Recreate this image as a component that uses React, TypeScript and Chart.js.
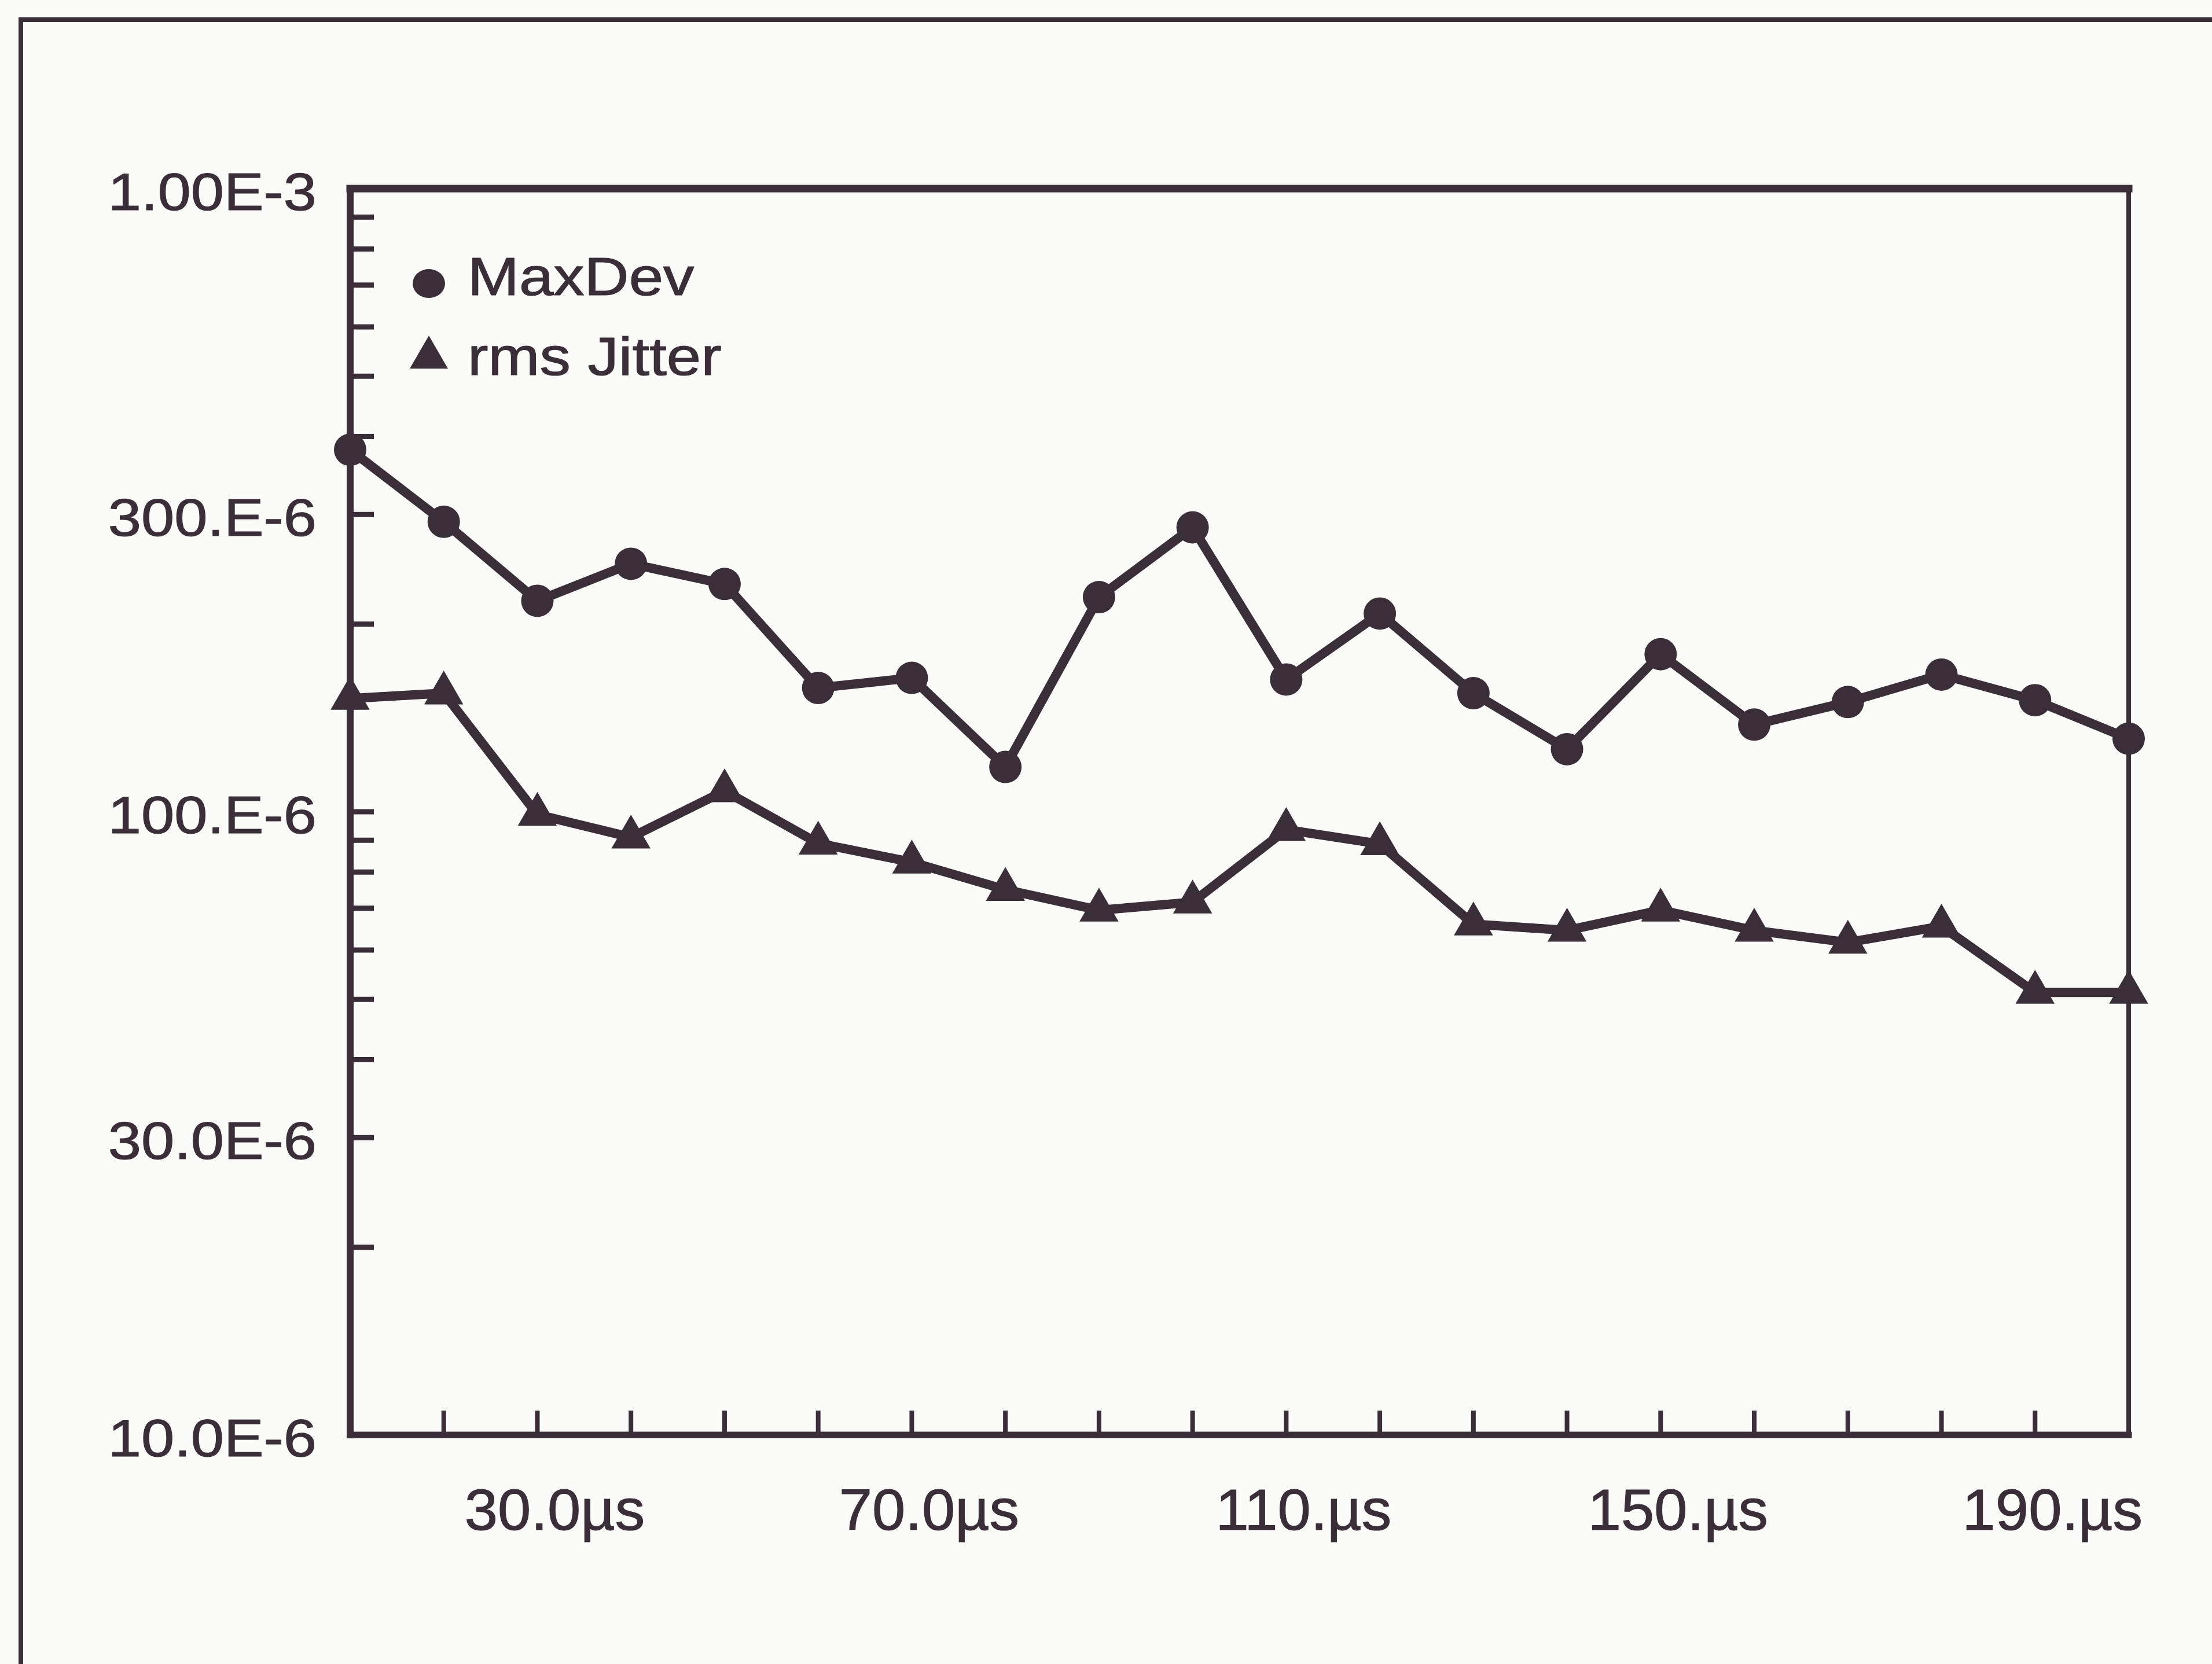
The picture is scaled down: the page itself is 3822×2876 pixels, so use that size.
import React, { useEffect, useRef } from "react";
import { Chart, registerables } from "chart.js";

Chart.register(...registerables);

// ---- data ----
const timeUs = [10, 20, 30, 40, 50, 60, 70, 80, 90, 100, 110, 120, 130, 140, 150, 160, 170, 180, 190, 200];
// values in units of 1E-6
const maxDevE6 = [381, 292, 218, 250, 232, 158, 164, 118, 221, 286, 163, 208, 155, 126, 179, 138, 150, 166, 151, 131];
const rmsJitterE6 = [152, 155, 99, 91, 108, 89, 83, 75, 69.5, 71.6, 93.6, 88.8, 66, 64.5, 69.5, 64.5, 61.7, 65.5, 51.3, 51.3];

const seriesNames = ["MaxDev", "rms Jitter"];

const yTickValues = [1e-3, 3e-4, 1e-4, 3e-5, 1e-5];
const yTickLabels = ["1.00E-3", "300.E-6", "100.E-6", "30.0E-6", "10.0E-6"];
const xTickValues = [30, 70, 110, 150, 190];
const xTickLabels = ["30.0\u00b5s", "70.0\u00b5s", "110.\u00b5s", "150.\u00b5s", "190.\u00b5s"];

const X_MIN = 10;
const X_MAX = 200;
const X_MINOR_STEP = 10;
const Y_MIN = 1e-5;
const Y_MAX = 1e-3;

const INK = "#3a2f38";
const PAPER = "#fbfbf9";
const FONT = '"Liberation Sans", Arial, Helvetica, sans-serif';

const W = 3822;
const H = 2876;

function drawText(
  ctx: CanvasRenderingContext2D,
  text: string,
  x: number,
  y: number,
  size: number,
  sx: number,
  align: CanvasTextAlign
) {
  ctx.save();
  ctx.translate(x, y);
  ctx.scale(sx, 1);
  ctx.font = `${size}px ${FONT}`;
  ctx.textAlign = align;
  ctx.textBaseline = "alphabetic";
  ctx.fillStyle = INK;
  ctx.strokeStyle = INK;
  ctx.lineWidth = 1.2;
  ctx.lineJoin = "round";
  ctx.fillText(text, 0, 0);
  ctx.strokeText(text, 0, 0);
  ctx.restore();
}

const framePlugin = {
  id: "scanFrame",
  beforeDatasetsDraw(chart: any) {
    const ctx = chart.ctx;
    const { left, right, top, bottom } = chart.chartArea;
    const xs = chart.scales.x;
    const ys = chart.scales.y;
    ctx.save();
    ctx.strokeStyle = INK;
    ctx.lineCap = "square";

    // outer page frame (top and left only visible)
    ctx.lineWidth = 8;
    ctx.beginPath();
    ctx.moveTo(36, H + 10);
    ctx.lineTo(36, 34);
    ctx.lineTo(W + 10, 34);
    ctx.stroke();

    // plot box
    ctx.lineWidth = 13;
    ctx.beginPath();
    ctx.moveTo(left, top);
    ctx.lineTo(right, top);
    ctx.stroke();
    ctx.lineWidth = 12;
    ctx.beginPath();
    ctx.moveTo(left, top);
    ctx.lineTo(left, bottom);
    ctx.stroke();
    ctx.lineWidth = 11;
    ctx.beginPath();
    ctx.moveTo(left, bottom);
    ctx.lineTo(right, bottom);
    ctx.stroke();
    ctx.lineWidth = 8;
    ctx.beginPath();
    ctx.moveTo(right, top);
    ctx.lineTo(right, bottom);
    ctx.stroke();

    // y ticks (log minor ticks), inward
    ctx.lineCap = "butt";
    ctx.lineWidth = 9;
    const eMin = Math.round(Math.log10(Y_MIN));
    const eMax = Math.round(Math.log10(Y_MAX));
    for (let e = eMin; e < eMax; e++) {
      for (let m = 1; m <= 9; m++) {
        const v = m * Math.pow(10, e);
        if (v <= Y_MIN * 1.0001 || v >= Y_MAX * 0.9999) continue;
        const y = ys.getPixelForValue(v);
        ctx.beginPath();
        ctx.moveTo(left, y);
        ctx.lineTo(left + 41, y);
        ctx.stroke();
      }
    }
    // x ticks, inward
    ctx.lineWidth = 8;
    for (let v = X_MIN + X_MINOR_STEP; v < X_MAX; v += X_MINOR_STEP) {
      const x = xs.getPixelForValue(v);
      ctx.beginPath();
      ctx.moveTo(x, bottom);
      ctx.lineTo(x, bottom - 42);
      ctx.stroke();
    }
    ctx.restore();
  },
  afterDraw(chart: any) {
    const ctx: CanvasRenderingContext2D = chart.ctx;
    const { left, bottom } = chart.chartArea;
    const xs = chart.scales.x;
    const ys = chart.scales.y;

    // y labels
    yTickValues.forEach((v, i) => {
      const y = ys.getPixelForValue(v);
      drawText(ctx, yTickLabels[i], left - 58, y + 37, 91, 1.13, "right");
    });

    // x labels
    xTickValues.forEach((v, i) => {
      const x = xs.getPixelForValue(v);
      drawText(ctx, xTickLabels[i], x + 30, bottom + 164, 101, 1.02, "center");
    });

    // legend inside plot area
    ctx.save();
    ctx.fillStyle = INK;
    const lx = left + 136;
    ctx.beginPath();
    ctx.ellipse(lx, 490, 28, 25, 0, 0, Math.PI * 2);
    ctx.fill();
    const r = 38;
    const cy = 618;
    ctx.beginPath();
    ctx.moveTo(lx, cy - r);
    ctx.lineTo(lx + r * Math.sin((2 * Math.PI) / 3), cy + r / 2);
    ctx.lineTo(lx - r * Math.sin((2 * Math.PI) / 3), cy + r / 2);
    ctx.closePath();
    ctx.fill();
    ctx.restore();

    drawText(ctx, seriesNames[0], left + 203, 510, 92, 1.16, "left");
    drawText(ctx, seriesNames[1], left + 203, 648, 92, 1.16, "left");
  },
};

export default function App() {
  const canvasRef = useRef<HTMLCanvasElement | null>(null);

  useEffect(() => {
    const canvas = canvasRef.current;
    if (!canvas) return;
    const chart = new Chart(canvas, {
      type: "line",
      data: {
        datasets: [
          {
            label: seriesNames[0],
            data: timeUs.map((x, i) => ({ x, y: maxDevE6[i] * 1e-6 })),
            borderColor: INK,
            backgroundColor: INK,
            borderWidth: 16,
            borderJoinStyle: "round",
            borderCapStyle: "round",
            pointStyle: "circle",
            pointRadius: 28,
            pointBorderWidth: 0,
            pointBackgroundColor: INK,
            tension: 0,
            clip: false,
          },
          {
            label: seriesNames[1],
            data: timeUs.map((x, i) => ({ x, y: rmsJitterE6[i] * 1e-6 })),
            borderColor: INK,
            backgroundColor: INK,
            borderWidth: 16,
            borderJoinStyle: "round",
            borderCapStyle: "round",
            pointStyle: "triangle",
            pointRadius: 39,
            pointBorderWidth: 0,
            pointBackgroundColor: INK,
            tension: 0,
            clip: false,
          },
        ],
      },
      options: {
        animation: false,
        responsive: false,
        maintainAspectRatio: false,
        devicePixelRatio: 1,
        events: [],
        layout: { padding: { left: 605, top: 326, right: W - 3678, bottom: H - 2480 } },
        plugins: { legend: { display: false }, tooltip: { enabled: false } },
        scales: {
          x: { type: "linear", min: X_MIN, max: X_MAX, display: false },
          y: { type: "logarithmic", min: Y_MIN, max: Y_MAX, display: false },
        },
      } as any,
      plugins: [framePlugin],
    });
    return () => chart.destroy();
  }, []);

  return (
    <div
      style={{
        position: "fixed",
        left: 0,
        top: 0,
        width: W,
        height: H,
        background: PAPER,
        overflow: "hidden",
      }}
    >
      <canvas ref={canvasRef} width={W} height={H} style={{ display: "block", width: W, height: H }} />
    </div>
  );
}
